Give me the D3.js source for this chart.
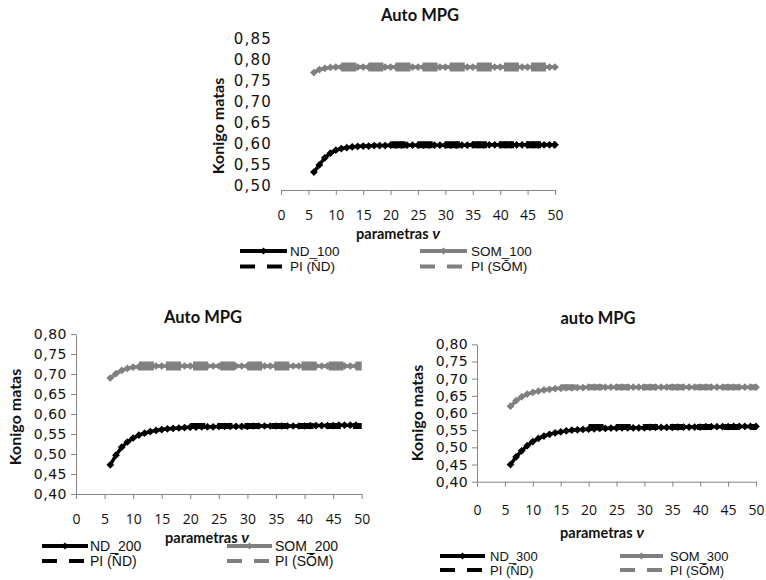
<!DOCTYPE html>
<html>
<head>
<meta charset="utf-8">
<script src="https://cdn.jsdelivr.net/npm/d3@7"></script>
<style>
  html, body { margin: 0; padding: 0; background: #fff; }
  svg { display: block; }
</style>
</head>
<body>
<svg id="chart" width="766" height="580"></svg>
<script>
// ---- data -------------------------------------------------------------
const xTickValues = [0, 5, 10, 15, 20, 25, 30, 35, 40, 45, 50];
const yTicksTop = [0.50, 0.55, 0.60, 0.65, 0.70, 0.75, 0.80, 0.85];
const yTicksBottom = [0.40, 0.45, 0.50, 0.55, 0.60, 0.65, 0.70, 0.75, 0.80];

// parameter values (v) for each run
const nu6to50 = [6,7,8,9,10,11,12,13,14,15,16,17,18,19,20,21,22,23,24,25,26,27,28,29,30,31,32,33,34,35,36,37,38,39,40,41,42,43,44,45,46,47,48,49,50];
const nu6to49 = [6,7,8,9,10,11,12,13,14,15,16,17,18,19,20,21,22,23,24,25,26,27,28,29,30,31,32,33,34,35,36,37,38,39,40,41,42,43,44,45,46,47,48,49];
// v spans of the PI reference levels
const piSpanND = [20, 50];
const piSpanSOM = [11, 50];
const piSpanSOM300 = [15, 50];

// 100 neurons
const nd100 = [0.532,0.549,0.566,0.577,0.584,0.588,0.590,0.592,0.593,0.594,0.594,0.595,0.595,0.595,0.596,
  0.596,0.596,0.596,0.596,0.596,0.596,0.596,0.596,0.596,0.596,0.596,0.596,0.596,0.596,
  0.597,0.597,0.597,0.597,0.597,0.597,0.597,0.597,0.597,0.597,0.597,0.597,0.597,0.597,0.597,0.597];
const som100 = [0.769,0.776,0.779,0.781,0.782,0.782,0.782,0.782,0.782,0.782,0.782,0.782,0.782,0.782,0.782,
  0.782,0.782,0.782,0.782,0.782,0.782,0.782,0.782,0.782,0.782,0.782,0.782,0.782,0.782,0.782,
  0.782,0.782,0.782,0.782,0.782,0.782,0.782,0.782,0.782,0.782,0.782,0.782,0.782,0.782,0.782];
const piND100 = 0.597;
const piSOM100 = 0.782;

// 200 neurons
const nd200 = [0.473,0.497,0.517,0.530,0.540,0.547,0.552,0.556,0.559,0.561,0.563,0.564,0.565,0.566,0.567,
  0.567,0.568,0.568,0.568,0.569,0.569,0.569,0.569,0.569,0.569,0.570,0.570,0.570,0.570,0.570,
  0.570,0.570,0.570,0.570,0.570,0.571,0.571,0.571,0.571,0.571,0.572,0.572,0.572,0.572];
const som200 = [0.690,0.701,0.709,0.714,0.717,0.718,0.719,0.720,0.720,0.720,0.720,0.720,0.720,0.720,0.720,
  0.720,0.720,0.720,0.720,0.720,0.720,0.720,0.720,0.720,0.720,0.720,0.720,0.720,0.720,0.720,
  0.720,0.720,0.720,0.720,0.720,0.720,0.720,0.720,0.720,0.720,0.720,0.720,0.720,0.720];
const piND200 = 0.570;
const piSOM200 = 0.720;

// 300 neurons
const nd300 = [0.450,0.472,0.490,0.505,0.517,0.526,0.533,0.538,0.542,0.545,0.548,0.550,0.551,0.552,0.553,
  0.554,0.555,0.555,0.556,0.556,0.557,0.557,0.557,0.557,0.557,0.558,0.558,0.558,0.558,0.558,
  0.559,0.559,0.559,0.559,0.559,0.560,0.560,0.560,0.560,0.560,0.561,0.561,0.561,0.561,0.561];
const som300 = [0.620,0.636,0.647,0.655,0.660,0.664,0.667,0.669,0.671,0.672,0.673,0.673,0.674,0.674,0.675,
  0.675,0.675,0.675,0.675,0.675,0.675,0.675,0.675,0.675,0.675,0.675,0.675,0.675,0.675,0.675,
  0.675,0.675,0.675,0.675,0.675,0.675,0.675,0.675,0.675,0.675,0.675,0.675,0.675,0.675,0.675];
const piND300 = 0.559;
const piSOM300 = 0.675;

// ---- panel layout -------------------------------------------------------
const panels = [
  { title: "Auto MPG", nu: nu6to50, nd: nd100, som: som100, piND: piND100, piSOM: piSOM100,
    spanND: piSpanND, spanSOM: piSpanSOM,
    ndName: "ND_100", somName: "SOM_100", yTicks: yTicksTop, yDomain: [0.50, 0.85],
    xRange: [281, 555], yRange: [185.5, 38.5], axisY: 190, showYLine: false,
    xLabelY: 215, xTitle: [398, 234], yTitle: [218, 126], titlePos: [420, 15],
    yTickFont: 15, yTickSpacing: 1.2, xTickFont: 14,
    legendRows: [251, 266.5], legendND: [240, 287, 290], legendSOM: [420, 467, 471], legendFont: 13.5,
    piWidthND: 7, piWidthSOM: 9 },
  { title: "Auto MPG", nu: nu6to49, nd: nd200, som: som200, piND: piND200, piSOM: piSOM200,
    spanND: piSpanND, spanSOM: piSpanSOM,
    ndName: "ND_200", somName: "SOM_200", yTicks: yTicksBottom, yDomain: [0.40, 0.80],
    xRange: [76, 361.7], yRange: [494, 334], axisY: 494, showYLine: true,
    xLabelY: 519.5, xTitle: [207, 537.5], yTitle: [15, 417], titlePos: [203, 317],
    yTickFont: 14, yTickSpacing: 0.5, xTickFont: 14,
    legendRows: [546, 561], legendND: [42, 88, 90], legendSOM: [227, 272, 275], legendFont: 14,
    piWidthND: 6, piWidthSOM: 9 },
  { title: "auto MPG", nu: nu6to50, nd: nd300, som: som300, piND: piND300, piSOM: piSOM300,
    spanND: piSpanND, spanSOM: piSpanSOM300,
    ndName: "ND_300", somName: "SOM_300", yTicks: yTicksBottom, yDomain: [0.40, 0.80],
    xRange: [477, 756], yRange: [481.7, 344.3], axisY: 481.7, showYLine: true,
    xLabelY: 510, xTitle: [602, 533], yTitle: [417, 413], titlePos: [598, 318],
    yTickFont: 14, yTickSpacing: 0.3, xTickFont: 14,
    legendRows: [556, 570], legendND: [440, 485, 490], legendSOM: [620, 663, 670], legendFont: 13,
    piWidthND: 6, piWidthSOM: 6 }
];

const BLACK = "#000000";
const GRAY = "#808080";
const AXIS = "#868686";
const TEXT = "#111111";
const comma = v => d3.format(".2f")(v).replace(".", ",");

const svg = d3.select("#chart");

panels.forEach(p => {
  const g = svg.append("g");
  const x = d3.scaleLinear().domain([0, 50]).range(p.xRange);
  const y = d3.scaleLinear().domain(p.yDomain).range(p.yRange);

  // title
  g.append("text")
    .attr("x", p.titlePos[0]).attr("y", p.titlePos[1]).attr("dy", "0.35em")
    .attr("text-anchor", "middle")
    .style("font-family", "Lato, 'Open Sans', sans-serif")
    .style("font-weight", 700).style("font-size", "16.5px").style("fill", TEXT)
    .text(p.title);

  // x axis: line + downward ticks, labels set lower
  const xAxis = d3.axisBottom(x).tickValues(xTickValues).tickSize(5).tickSizeOuter(0)
    .tickFormat(d3.format("d"));
  const xg = g.append("g").attr("transform", `translate(0,${p.axisY})`).call(xAxis);
  xg.select(".domain").attr("stroke", AXIS);
  xg.selectAll(".tick line").attr("stroke", AXIS);
  xg.selectAll(".tick text")
    .attr("y", p.xLabelY - p.axisY).attr("dy", "0.35em")
    .style("font-family", "'Open Sans', sans-serif").style("font-size", p.xTickFont + "px")
    .style("fill", TEXT);

  // y axis
  const yAxis = d3.axisLeft(y).tickValues(p.yTicks).tickSize(p.showYLine ? 5 : 0)
    .tickSizeOuter(0).tickPadding(p.showYLine ? 4 : 9).tickFormat(comma);
  const yg = g.append("g").attr("transform", `translate(${p.xRange[0]},0)`).call(yAxis);
  yg.select(".domain").attr("stroke", p.showYLine ? AXIS : "none");
  yg.selectAll(".tick line").attr("stroke", AXIS);
  yg.selectAll(".tick text")
    .style("font-family", "'DejaVu Sans', sans-serif").style("font-size", p.yTickFont + "px")
    .style("letter-spacing", p.yTickSpacing + "px").style("fill", TEXT);

  // axis titles
  const xt = g.append("text")
    .attr("x", p.xTitle[0]).attr("y", p.xTitle[1]).attr("dy", "0.35em")
    .attr("text-anchor", "middle")
    .style("font-family", "Lato, 'Open Sans', sans-serif")
    .style("font-weight", 700).style("font-size", "14.5px").style("fill", TEXT);
  xt.append("tspan").text("parametras ");
  xt.append("tspan").style("font-style", "italic").style("font-size", "16px").text("ν");

  g.append("text")
    .attr("transform", `translate(${p.yTitle[0]},${p.yTitle[1]}) rotate(-90)`)
    .attr("dy", "0.35em").attr("text-anchor", "middle")
    .style("font-family", "Lato, 'Open Sans', sans-serif")
    .style("font-weight", 700).style("font-size", "16px").style("fill", TEXT)
    .text("Konigo matas");

  // series
  const line = d3.line().x(d => x(d[0])).y(d => y(d[1]));
  const marker = d3.symbol(d3.symbolSquare, 30);
  const series = [
    { vals: p.nd, color: BLACK },
    { vals: p.som, color: GRAY }
  ];
  series.forEach(s => {
    const pts = p.nu.map((v, i) => [v, s.vals[i]]);
    g.append("path").datum(pts).attr("d", line)
      .attr("fill", "none").attr("stroke", s.color).attr("stroke-width", 3.5)
      .attr("stroke-linejoin", "round");
    g.selectAll(null).data(pts).enter().append("path")
      .attr("d", marker)
      .attr("transform", d => `translate(${x(d[0])},${y(d[1])}) rotate(45)`)
      .attr("fill", s.color);
  });

  // PI reference levels, dashed
  [{ v: p.piND, span: p.spanND, w: p.piWidthND, color: BLACK },
   { v: p.piSOM, span: p.spanSOM, w: p.piWidthSOM, color: GRAY }].forEach(r => {
    const pts = r.span.map(v => [v, r.v]);
    g.append("path").datum(pts).attr("d", line)
      .attr("fill", "none").attr("stroke", r.color).attr("stroke-width", r.w)
      .attr("stroke-dasharray", "15,12.1");
  });

  // legend
  const legendItems = [
    { key: p.legendND, row: 0, color: BLACK, dashed: false, label: p.ndName },
    { key: p.legendSOM, row: 0, color: GRAY, dashed: false, label: p.somName },
    { key: p.legendND, row: 1, color: BLACK, dashed: true, label: "PI (N\u0304D)" },
    { key: p.legendSOM, row: 1, color: GRAY, dashed: true, label: "PI (SO\u0304M)" }
  ];
  legendItems.forEach(it => {
    const ly = p.legendRows[it.row];
    g.append("line")
      .attr("x1", it.key[0]).attr("x2", it.key[1]).attr("y1", ly).attr("y2", ly)
      .attr("stroke", it.color).attr("stroke-width", 4)
      .attr("stroke-dasharray", it.dashed ? "15,12" : null);
    if (!it.dashed) {
      g.append("path").attr("d", d3.symbol(d3.symbolSquare, 26))
        .attr("transform", `translate(${(it.key[0] + it.key[1]) / 2},${ly}) rotate(45)`)
        .attr("fill", it.color);
    }
    g.append("text")
      .attr("x", it.key[2]).attr("y", ly).attr("dy", "0.35em")
      .style("font-family", "'Liberation Sans', Arial, sans-serif")
      .style("font-size", p.legendFont + "px").style("fill", TEXT)
      .text(it.label);
  });
});
</script>
</body>
</html>
